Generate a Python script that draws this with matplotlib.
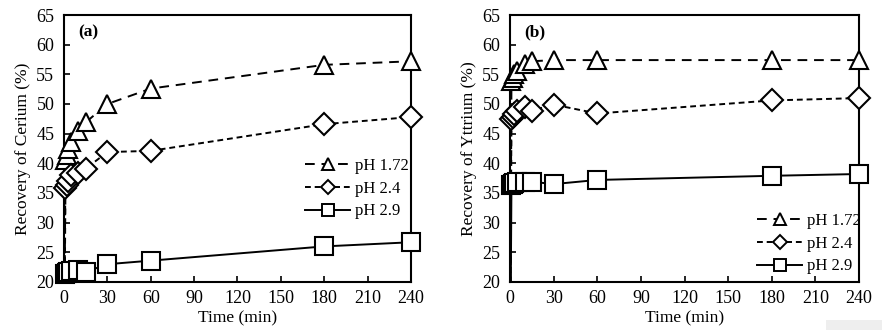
import matplotlib
matplotlib.use("Agg")
import matplotlib.pyplot as plt
from matplotlib.lines import Line2D
from matplotlib.patches import Rectangle

plt.rcParams['font.family'] = ['Liberation Serif', 'DejaVu Serif']

# Sampling times (min)
time_min = [0, 1, 2, 3, 5, 10, 15, 30, 60, 180, 240]

# Cerium recovery (%)
ce_ph172 = [0, 40.6, 41.4, 42.4, 43.6, 45.4, 46.9, 50.0, 52.6, 56.6, 57.2]
ce_ph24 = [0, 35.8, 36.3, 37.0, 38.0, 38.4, 39.1, 41.9, 42.1, 46.6, 47.8]
ce_ph29 = [0, 21.3, 21.5, 21.7, 21.8, 22.0, 21.7, 23.0, 23.6, 26.0, 26.7]

# Yttrium recovery (%)
y_ph172 = [0, 53.8, 54.4, 55.0, 55.6, 56.8, 57.2, 57.4, 57.4, 57.4, 57.4]
y_ph24 = [0, 47.4, 47.8, 48.3, 48.8, 49.5, 48.9, 49.9, 48.4, 50.6, 51.0]
y_ph29 = [0, 36.4, 36.6, 36.7, 36.8, 36.9, 36.9, 36.5, 37.2, 37.9, 38.2]

series_labels = ["pH 1.72", "pH 2.4", "pH 2.9"]
x_ticks = [0, 30, 60, 90, 120, 150, 180, 210, 240]
y_ticks = [20, 25, 30, 35, 40, 45, 50, 55, 60, 65]

styles = [
    dict(marker='^', ms=13, ls=(0, (5, 3.5))),
    dict(marker='D', ms=11, ls=(0, (3, 2))),
    dict(marker='s', ms=13, ls='-'),
]

W, H = 882, 330
fig = plt.figure(figsize=(W / 100, H / 100), dpi=100)
ax1 = fig.add_axes([64 / W, 1 - 282 / H, 347 / W, 267 / H])
ax2 = fig.add_axes([510 / W, 1 - 282 / H, 349 / W, 267 / H])

panels = [
    (ax1, [ce_ph172, ce_ph24, ce_ph29], "Recovery of Cerium (%)", "(a)", (305, 158)),
    (ax2, [y_ph172, y_ph24, y_ph29], "Recovery of Yttrium (%)", "(b)", (757, 213)),
]

fs_tick = 13
fs_label = 12.5

for ax, data, ylabel, tag, (lx, ly) in panels:
    handles = []
    for vals, st, lab in zip(data, styles, series_labels):
        # connecting line (clipped to the plot area)
        ax.plot(time_min, vals, color='black', lw=1.4, ls=st['ls'], zorder=2)
        # markers for measured points, drawn over the frame
        ax.plot(time_min[1:], vals[1:], ls='none', marker=st['marker'],
                ms=st['ms'], mfc='white', mec='black', mew=1.5,
                clip_on=False, zorder=3)
        handles.append(Line2D([], [], color='black', lw=1.4, ls=st['ls'],
                              marker=st['marker'], ms=st['ms'] * 0.62,
                              mfc='white', mec='black', mew=1.4, label=lab))
    ax.set_xlim(0, 240)
    ax.set_ylim(20, 65)
    ax.set_xticks(x_ticks)
    ax.set_yticks(y_ticks)
    ax.tick_params(direction='in', length=4, width=1.2, labelsize=fs_tick,
                   top=False, right=False, pad=7)
    ax.tick_params(axis='x', pad=6)
    for sp in ax.spines.values():
        sp.set_linewidth(1.5)
    ax.set_ylabel(ylabel, fontsize=fs_label, labelpad=4)
    ax.set_xlabel("Time (min)", fontsize=fs_label)
    ax.xaxis.set_label_coords(0.5, -0.108)
    ax.text(0.04, 0.935, tag, transform=ax.transAxes, fontsize=fs_label,
            fontweight='bold', va='center', ha='left')
    ax.legend(handles=handles, loc='upper left',
              bbox_to_anchor=(lx / W, 1 - ly / H),
              bbox_transform=fig.transFigure, frameon=False,
              fontsize=12, handlelength=2.7, handletextpad=0.3,
              labelspacing=0.4, borderpad=0, borderaxespad=0)

fig.patches.append(Rectangle((826 / W, 0.0), 56 / W, 10 / H,
                             transform=fig.transFigure,
                             facecolor='#eeeeee', edgecolor='none'))

fig.savefig("out.png", dpi=100)
